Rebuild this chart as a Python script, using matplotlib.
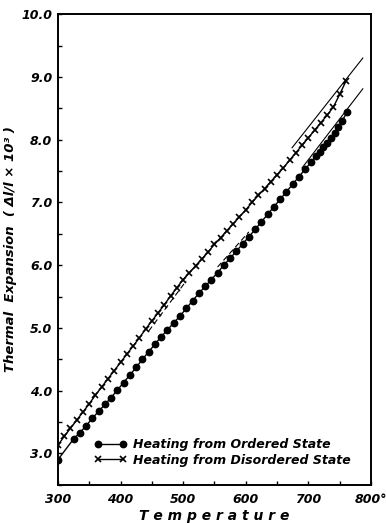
import matplotlib.pyplot as plt
import numpy as np

# heating from ordered state (circles)
t_ord = [300, 325, 335, 345, 355, 365, 375, 385, 395, 405, 415, 425, 435, 445, 455,
         465, 475, 485, 495, 505, 515, 525, 535, 545, 555, 565, 575, 585, 595, 605,
         615, 625, 635, 645, 655, 665, 675, 685, 695, 705, 712, 718, 724, 730, 736,
         742, 748, 754, 762]
v_ord = [2.90, 3.23, 3.33, 3.44, 3.56, 3.67, 3.78, 3.89, 4.01, 4.13, 4.25, 4.37, 4.50,
         4.62, 4.74, 4.86, 4.97, 5.08, 5.19, 5.31, 5.43, 5.55, 5.66, 5.77, 5.88, 6.00,
         6.11, 6.22, 6.34, 6.45, 6.57, 6.69, 6.81, 6.93, 7.05, 7.17, 7.29, 7.41, 7.53,
         7.65, 7.74, 7.81, 7.88, 7.95, 8.03, 8.11, 8.20, 8.30, 8.44]

# heating from disordered state (crosses)
t_dis = list(range(300, 770, 10))
v_dis = [3.13, 3.27, 3.40, 3.53, 3.66, 3.79, 3.93, 4.06, 4.19, 4.32, 4.45, 4.58, 4.71,
         4.84, 4.98, 5.11, 5.24, 5.37, 5.51, 5.64, 5.77, 5.88, 5.99, 6.10, 6.21, 6.33,
         6.44, 6.55, 6.66, 6.77, 6.88, 7.00, 7.11, 7.22, 7.33, 7.44, 7.55, 7.67, 7.79,
         7.91, 8.03, 8.15, 8.27, 8.39, 8.52, 8.72, 8.93]

# tangent lines drawn on the original
tan_dis_solid = ([674, 787], [7.87, 9.30])
tan_ord_solid = ([690, 787], [7.55, 8.81])
tan_dis_dash = ([445, 505], [4.95, 5.75])
tan_ord_dash = ([555, 605], [5.97, 6.53])

xticks = [300, 400, 500, 600, 700, 800]
xlabels = ['300', '400', '500', '600', '700', '800°']
yticks = [3, 4, 5, 6, 7, 8, 9, 10]
ylabels = ['3.0', '4.0', '5.0', '6.0', '7.0', '8.0', '9.0', '10.0']

font = dict(family='DejaVu Sans', style='italic')

fig = plt.figure(figsize=(3.86, 5.23), dpi=100)
ax = fig.add_axes([0.150, 0.073, 0.811, 0.900])

ax.plot(t_ord, v_ord, '-o', color='black', lw=1.0, ms=4.6,
        label='Heating from Ordered State')
ax.plot(t_dis, v_dis, '-x', color='black', lw=1.0, ms=4.0, mew=1.2,
        label='Heating from Disordered State')

ax.plot(*tan_dis_solid, color='black', lw=0.8)
ax.plot(*tan_ord_solid, color='black', lw=0.8)
ax.plot(*tan_dis_dash, color='black', lw=0.8, ls=(0, (5, 3)))
ax.plot(*tan_ord_dash, color='black', lw=0.8, ls=(0, (5, 3)))

ax.set_xlim(300, 800)
ax.set_ylim(2.5, 10.0)
ax.set_xticks(xticks)
ax.set_xticklabels(xlabels, fontsize=9, fontweight='bold', **font)
ax.set_yticks(yticks)
ax.set_yticklabels(ylabels, fontsize=9, fontweight='bold', **font)
ax.xaxis.set_minor_locator(plt.MultipleLocator(50))
ax.yaxis.set_minor_locator(plt.MultipleLocator(0.5))
ax.tick_params(which='both', direction='in', length=3, width=1.0)
ax.tick_params(axis='x', pad=6)
ax.tick_params(axis='y', pad=4)
for s in ax.spines.values():
    s.set_linewidth(1.4)

ax.set_xlabel('T e m p e r a t u r e', fontsize=10, fontweight='bold', labelpad=2, **font)
ax.set_ylabel('Thermal  Expansion  ( Δl/l × 10³ )', fontsize=9.5, fontweight='bold',
              labelpad=3, **font)

leg = ax.legend(loc='lower left', bbox_to_anchor=(0.08, 0.015), frameon=False,
                numpoints=2, handlelength=2.6, handletextpad=0.5, labelspacing=0.2,
                prop=dict(size=9, weight='bold', **font))

fig.savefig('out.png', dpi=100)
